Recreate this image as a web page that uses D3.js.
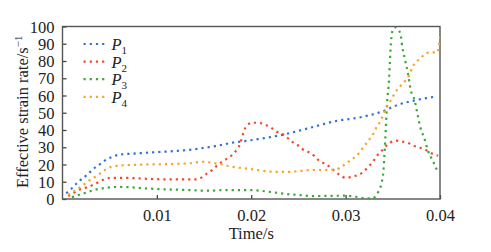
<!DOCTYPE html>
<html>
<head>
<meta charset="utf-8">
<script src="https://cdn.jsdelivr.net/npm/d3@7"></script>
<style>
    body { margin: 0; background: #fff; }
    svg text { font-family: "Liberation Serif", "Times New Roman", serif; fill: #222; }
</style>
</head>
<body>
<div id="chart-area"></div>
<script>

// Values
let p1Time = [0.0004, 0.001, 0.0015, 0.0019, 0.0025, 0.003, 0.0035, 0.0041, 0.0047, 0.0053, 0.006, 0.0066, 0.008, 0.01, 0.0114, 0.0134, 0.0162, 0.0183, 0.0196, 0.0216, 0.0237, 0.0257, 0.029, 0.0316, 0.0338, 0.0355, 0.0375, 0.0395];
let p1Rate = [3.3, 6.2, 9, 11, 13.5, 16, 18.4, 20.7, 23, 24.5, 25.7, 26, 26.5, 27.2, 27.6, 28.5, 30.7, 32.9, 33.8, 35.5, 37.7, 40.5, 45.2, 47.4, 50.6, 54.5, 57.4, 59.3];

let p2Time = [0.0006, 0.0012, 0.0017, 0.0025, 0.0032, 0.0038, 0.0044, 0.0051, 0.0064, 0.0086, 0.0107, 0.0141, 0.0147, 0.0152, 0.0159, 0.0164, 0.0169, 0.0175, 0.018, 0.0185, 0.0188, 0.019, 0.0192, 0.0195, 0.0201, 0.0207, 0.0214, 0.0221, 0.0227, 0.0233, 0.0237, 0.0243, 0.0249, 0.0254, 0.0261, 0.0267, 0.0271, 0.0277, 0.0283, 0.0288, 0.0294, 0.03, 0.0307, 0.0313, 0.0319, 0.0324, 0.0329, 0.0333, 0.0338, 0.0342, 0.0347, 0.0354, 0.0361, 0.0367, 0.0373, 0.0379, 0.0385, 0.0391, 0.0398];
let p2Rate = [1.7, 3.6, 5.2, 6.6, 8.1, 9.7, 11.4, 12.2, 12.3, 11.8, 11.4, 11.4, 12.3, 14.3, 17, 19.5, 21.6, 23.6, 25.7, 28.8, 31.7, 35.2, 39, 42.3, 44.2, 44.2, 43.3, 41.3, 39, 37.7, 36.1, 33.2, 31.3, 29, 27.1, 24.9, 22.6, 20.7, 18.7, 16.4, 13.9, 12.3, 12.9, 13.9, 15.8, 18.7, 21.6, 24.9, 27.8, 30.3, 32.6, 33.8, 33.2, 32.3, 30.7, 29.7, 28.4, 26.5, 25.1];

let p3Time = [0.001, 0.0018, 0.0025, 0.0031, 0.0038, 0.0045, 0.0058, 0.0072, 0.0086, 0.01, 0.0134, 0.0154, 0.0174, 0.0196, 0.0209, 0.0223, 0.0237, 0.0251, 0.0264, 0.0298, 0.0311, 0.0322, 0.0329, 0.0332, 0.0335, 0.0338, 0.034, 0.0341, 0.0342, 0.0343, 0.0344, 0.0346, 0.0347, 0.0348, 0.035, 0.0353, 0.0358, 0.036, 0.0363, 0.0366, 0.0369, 0.0373, 0.0376, 0.0379, 0.0384, 0.0387, 0.0391, 0.0394, 0.0397];
let p3Rate = [1, 2.5, 3.7, 4.8, 5.8, 6.4, 7, 6.8, 6.2, 5.8, 5.2, 4.8, 5.2, 5.2, 4.8, 3.9, 2.9, 2.3, 1.7, 1.9, 1.3, 0.4, 0.4, 1.9, 4.6, 9.1, 15.8, 24.5, 34.2, 45.8, 56.4, 69, 80.6, 90.3, 98, 99.5, 96, 88.3, 80.6, 72.9, 63.2, 57.4, 49.7, 41.9, 34.2, 28.4, 23.6, 20.3, 16.4];

let p4Time = [0.0006, 0.0011, 0.0017, 0.0023, 0.0028, 0.0034, 0.004, 0.0046, 0.0052, 0.0059, 0.008, 0.01, 0.0134, 0.0148, 0.0155, 0.0162, 0.0169, 0.0176, 0.0183, 0.0196, 0.0209, 0.0223, 0.0237, 0.0251, 0.0264, 0.0277, 0.029, 0.0297, 0.0303, 0.0309, 0.0314, 0.0318, 0.0322, 0.0326, 0.033, 0.0333, 0.0337, 0.034, 0.0343, 0.0346, 0.035, 0.0353, 0.0358, 0.0363, 0.0367, 0.0371, 0.0375, 0.038, 0.0385, 0.0391, 0.0397, 0.04];
let p4Rate = [2.3, 4.2, 6.2, 8.5, 10.6, 12.6, 14.9, 17.2, 18.7, 19.3, 19.9, 20.1, 20.7, 21.6, 21.3, 20.7, 20.1, 19.1, 18.4, 17.6, 16.6, 15.8, 15.7, 16.2, 16.8, 16.8, 17.2, 19.3, 21.6, 23.9, 26.5, 29.4, 32.3, 35.2, 38.4, 41.9, 45.2, 49.1, 52.6, 55.5, 59.3, 62.2, 65.5, 68.4, 71.3, 76.7, 79.6, 81.9, 84.5, 85, 85, 94];

let seriesNames = ["1", "2", "3", "4"];
let xTicks = [0.01, 0.02, 0.03, 0.04];
let yTicks = [0, 10, 20, 30, 40, 50, 60, 70, 80, 90, 100];

let colors = ["#3370cf", "#f2492a", "#3ba83b", "#f5a52a"];


class LineChart {

    constructor(parentElement, series) {
        this.parentElement = parentElement;
        this.series = series;
        this.initVis();
    }

    initVis() {
        let vis = this;

        vis.margin = {top: 26.5, right: 51, bottom: 53, left: 62.5};
        vis.width = 491 - vis.margin.left - vis.margin.right;
        vis.height = 252 - vis.margin.top - vis.margin.bottom;

        vis.svg = d3.select("#" + vis.parentElement)
            .append("svg")
            .attr("width", 491)
            .attr("height", 252)
            .append("g")
            .attr("transform", "translate(" + vis.margin.left + "," + vis.margin.top + ")");

        vis.x = d3.scaleLinear().domain([0, 0.04]).range([0, vis.width]);
        vis.y = d3.scaleLinear().domain([0, 100]).range([vis.height, 0]);

        vis.svg.append("clipPath").attr("id", "plot-clip")
            .append("rect")
            .attr("width", vis.width)
            .attr("height", vis.height);

        // axes, ticks pointing inward
        vis.xAxis = d3.axisBottom(vis.x).tickValues(xTicks).tickSize(-4).tickPadding(0).tickFormat(d3.format(".2f"));
        vis.yAxis = d3.axisLeft(vis.y).tickValues(yTicks).tickSize(-4).tickPadding(8);

        vis.svg.append("g")
            .attr("class", "x-axis axis")
            .attr("transform", "translate(0," + vis.height + ")")
            .call(vis.xAxis);

        vis.svg.append("g")
            .attr("class", "y-axis axis")
            .call(vis.yAxis);

        vis.svg.selectAll(".axis .domain").remove();
        vis.svg.selectAll(".axis line").attr("stroke", "#444").attr("stroke-width", 1.3);
        vis.svg.selectAll(".axis text").attr("font-size", 16.5).attr("fill", "#222");
        vis.svg.selectAll(".x-axis text").attr("y", 21.5).attr("dy", null);
        vis.svg.selectAll(".y-axis text").attr("dy", "0.34em");

        // frame
        vis.svg.append("rect")
            .attr("width", vis.width)
            .attr("height", vis.height)
            .attr("fill", "none")
            .attr("stroke", "#555")
            .attr("stroke-width", 1.4);

        // axis titles
        vis.svg.append("text")
            .attr("x", vis.x(0.02))
            .attr("y", vis.height + 39.5)
            .attr("text-anchor", "middle")
            .attr("font-size", 16.5)
            .text("Time/s");

        let yTitle = vis.svg.append("text")
            .attr("transform", "translate(" + (-34.5) + "," + (vis.height / 2 - 1) + ") rotate(-90)")
            .attr("text-anchor", "middle")
            .attr("font-size", 16.5);
        yTitle.append("tspan").text("Effective strain rate/s");
        yTitle.append("tspan").attr("dy", -6).attr("font-size", 11).text("\u22121");

        vis.line = d3.line()
            .x(d => vis.x(d[0]))
            .y(d => vis.y(d[1]))
            .curve(d3.curveMonotoneX);

        vis.updateVis();
    }

    updateVis() {
        let vis = this;

        vis.svg.append("g")
            .attr("clip-path", "url(#plot-clip)")
            .selectAll(".series-line")
            .data(vis.series)
            .enter().append("path")
            .attr("class", "series-line")
            .attr("fill", "none")
            .attr("stroke", (d, i) => colors[i])
            .attr("stroke-width", 2.2)
            .attr("stroke-dasharray", "2.2 4")
            .attr("d", d => vis.line(d.values));

        // legend
        let legend = vis.svg.selectAll(".legend-item")
            .data(vis.series)
            .enter().append("g")
            .attr("class", "legend-item")
            .attr("transform", (d, i) => "translate(21," + (17.5 + i * 17.6) + ")");

        legend.append("line")
            .attr("x1", 0).attr("x2", 21)
            .attr("stroke", (d, i) => colors[i])
            .attr("stroke-width", 2.2)
            .attr("stroke-dasharray", "2.2 4");

        let label = legend.append("text")
            .attr("x", 28)
            .attr("y", 6)
            .attr("font-size", 16.5);
        label.append("tspan").attr("font-style", "italic").text("P");
        label.append("tspan").attr("dy", 4).attr("font-size", 11).text(d => d.name);
    }
}

let series = [
    {name: seriesNames[0], values: d3.zip(p1Time, p1Rate)},
    {name: seriesNames[1], values: d3.zip(p2Time, p2Rate)},
    {name: seriesNames[2], values: d3.zip(p3Time, p3Rate)},
    {name: seriesNames[3], values: d3.zip(p4Time, p4Rate)}
];

let chart = new LineChart("chart-area", series);

</script>
</body>
</html>
